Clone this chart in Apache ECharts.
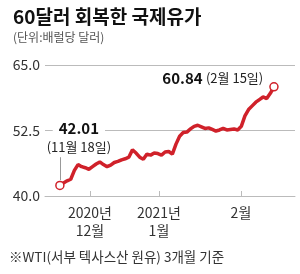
<!DOCTYPE html>
<html>
<head>
    <meta charset="utf-8">
    <title>60달러 회복한 국제유가</title>
    <script src="https://cdn.jsdelivr.net/npm/echarts@6/dist/echarts.min.js"></script>
    <style type="text/css">
        * { margin: 0px; padding: 0px; }
        #chart { width: 300px; height: 274px; background: #fff; }
    </style>
</head>
<body>
<div id="chart"></div>
<script type="text/javascript">
    // WTI 일별 종가 (11월 18일 ~ 2월 15일), 그림에서 읽은 값
    var prices = [42.01, 42.5, 42.9, 43.2, 44.9, 46.0, 45.6, 45.4, 45.1, 45.6,
        46.1, 46.5, 46.0, 45.6, 45.9, 46.4, 46.6, 46.9, 47.1, 47.4,
        48.8, 48.2, 47.4, 47.0, 48.0, 47.8, 48.2, 48.1, 47.8, 48.4,
        48.5, 48.0, 49.9, 51.4, 52.1, 52.2, 52.8, 53.3, 53.5, 53.2,
        52.9, 53.0, 52.7, 52.4, 52.6, 52.9, 52.6, 52.7, 52.8, 52.6,
        53.3, 55.3, 56.5, 57.2, 57.9, 58.4, 58.9, 58.6, 59.6, 60.84];
    var startLabel = ['42.01', '(11월 18일)'];
    var endLabel = ['60.84', '(2월 15일)'];
    // x축 눈금 위치(거래일 순번)와 라벨
    var tickPos = [8.3, 27.3, 49.9];
    var tickLabels = ['2020년\n12월', '2021년\n1월', '2월'];
    var yTicks = [40, 52.5, 65];

    var font = '"Noto Sans CJK KR", sans-serif';
    var red = '#d0212a';
    var last = prices.length - 1;

    var chart = echarts.init(document.getElementById('chart'));

    var lineData = prices.map(function (v, i) {
        var item = {value: [i, v], symbol: 'none'};
        if (i === 0) {
            item.symbol = 'circle';
            item.label = {
                show: true, position: 'top', distance: 24, offset: [19, 0],
                align: 'center', lineHeight: 19,
                formatter: '{b|' + startLabel[0] + '}\n{s|' + startLabel[1] + '}',
                rich: {
                    b: {fontFamily: font, fontSize: 15, fontWeight: 'bold', color: '#111',
                        backgroundColor: '#fff', padding: [0, 6], lineHeight: 19},
                    s: {fontFamily: font, fontSize: 13, color: '#222', lineHeight: 19}
                }
            };
        }
        if (i === last) {
            item.symbol = 'circle';
            item.label = {
                show: true, position: 'left', distance: 6, offset: [0, -9],
                formatter: '{b|' + endLabel[0] + '} {s|' + endLabel[1] + '}',
                rich: {
                    b: {fontFamily: font, fontSize: 15, fontWeight: 'bold', color: '#111'},
                    s: {fontFamily: font, fontSize: 13, color: '#222'}
                }
            };
        }
        return item;
    });

    var option = {
        animation: false,
        title: {
            text: '60달러 회복한 국제유가',
            subtext: '(단위:배럴당 달러)',
            left: 8, top: 2, itemGap: 5,
            textStyle: {fontFamily: font, fontSize: 19, fontWeight: 'bold', color: '#111'},
            subtextStyle: {fontFamily: font, fontSize: 12, color: '#555'}
        },
        graphic: [{
            type: 'text', left: 9, top: 250,
            style: {text: '※WTI(서부 텍사스산 원유) 3개월 기준', font: '13.5px ' + font, fill: '#333'}
        }],
        grid: {left: 45, right: 5, top: 65, bottom: 78},
        xAxis: {
            type: 'value', min: -4.1, max: 64.8,
            axisLine: {show: true, lineStyle: {color: '#bbb'}},
            axisTick: {show: true, inside: true, length: 5, customValues: tickPos, lineStyle: {color: '#bbb'}},
            axisLabel: {
                customValues: tickPos, margin: 8, lineHeight: 18,
                fontFamily: font, fontSize: 14, color: '#333', align: 'center',
                formatter: function (v) {
                    var k = tickPos.indexOf(v);
                    return k >= 0 ? tickLabels[k] : '';
                }
            },
            splitLine: {show: false}
        },
        yAxis: {
            type: 'value', min: yTicks[0], max: yTicks[2], interval: 12.5,
            axisLine: {show: false}, axisTick: {show: false},
            axisLabel: {
                fontFamily: font, fontSize: 14, color: '#333', margin: 5,
                formatter: function (v) { return v.toFixed(1); }
            },
            splitLine: {lineStyle: {color: '#bbb'}}
        },
        series: [{
            type: 'line',
            data: lineData,
            symbolSize: 8,
            itemStyle: {color: '#fff', borderColor: red, borderWidth: 1.5},
            lineStyle: {color: red, width: 3.5},
            z: 3,
            markLine: {
                silent: true, symbol: 'none', label: {show: false},
                lineStyle: {color: '#999', width: 1, type: 'solid'},
                data: [[{coord: [0, 47.4]}, {coord: [0, 43.0]}]]
            }
        }]
    };

    chart.setOption(option);
</script>
</body>
</html>
